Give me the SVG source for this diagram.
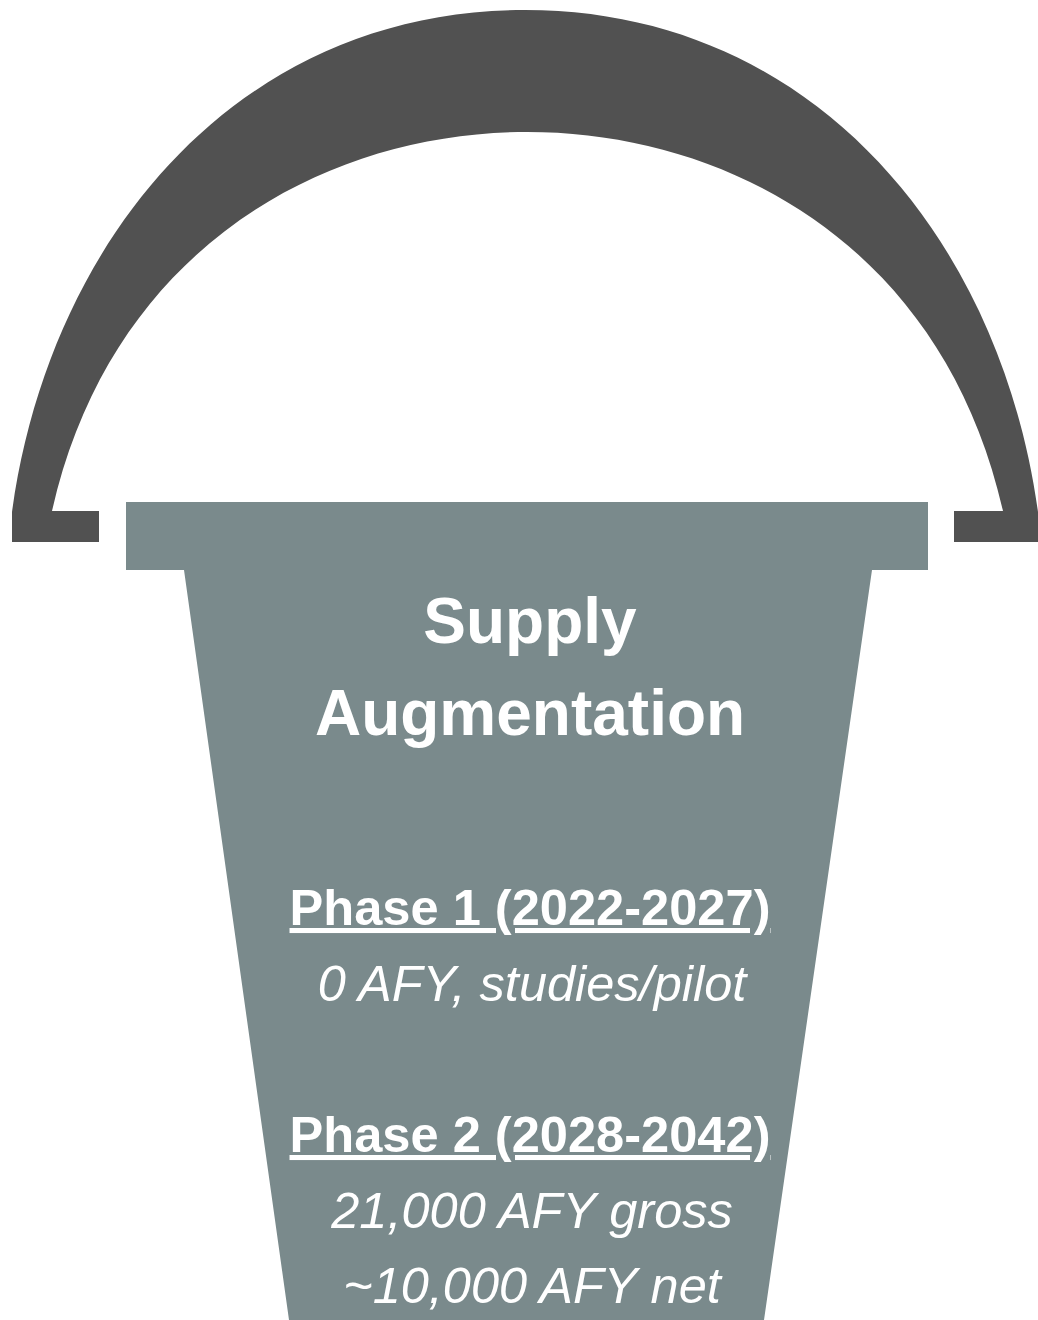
<svg xmlns="http://www.w3.org/2000/svg" width="1038" height="1320" viewBox="0 0 1038 1320">
<style>
.t{font-family:"Liberation Sans",Arial,sans-serif;fill:#fff;text-anchor:middle}
.h{font-size:64px;font-weight:bold}
.p{font-size:50.6px;font-weight:bold;text-decoration:underline}
.i{font-size:50.5px;font-style:italic}
</style>
<rect width="1038" height="1320" fill="#fff"/>
<g id="handle"><path fill="#515151" d="M12 542V512C49 242 235 10 525 10C815 10 1001 242 1038 512V542H954V511H1003C943 246 728 132 527.5 132C327 132 112 246 52 511H99V542Z"/></g>
<g id="bucket"><path fill="#7a8a8c" d="M126 502H928V570H872L764 1320H289L184 570H126Z"/>
<text class="t h" x="530" y="643">Supply</text>
<text class="t h" x="530" y="735">Augmentation</text>
<text class="t p" x="530" y="925">Phase 1 (2022-2027)</text>
<text class="t i" x="532" y="1001">0 AFY, studies/pilot</text>
<text class="t p" x="530" y="1152">Phase 2 (2028-2042)</text>
<text class="t i" x="532" y="1228">21,000 AFY gross</text>
<text class="t i" x="532" y="1303">~10,000 AFY net</text>
</g>
</svg>
